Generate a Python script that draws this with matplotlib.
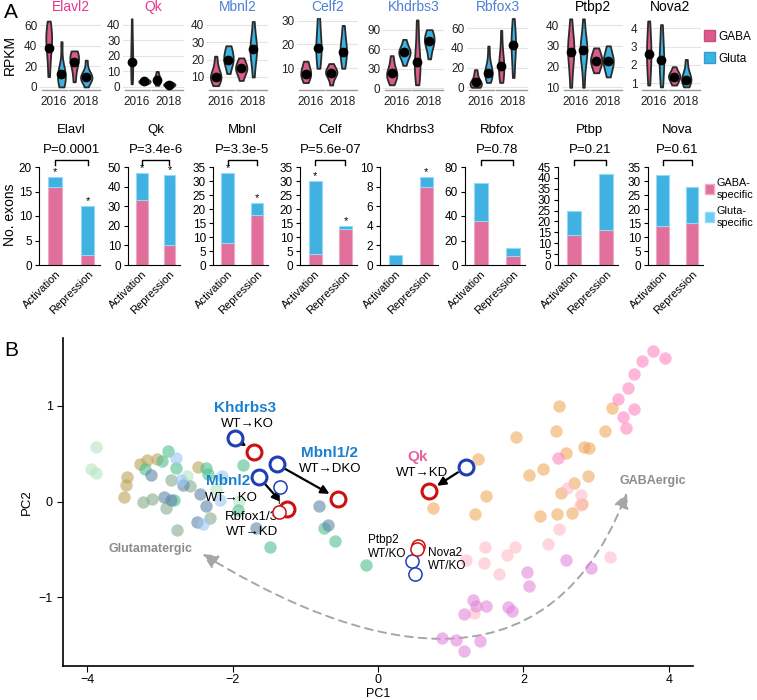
import numpy as np
import matplotlib
matplotlib.use('Agg')
import matplotlib.pyplot as plt
from matplotlib.patches import Patch, FancyArrowPatch
from matplotlib.path import Path
from matplotlib import cbook

plt.rcParams['font.family'] = ['Liberation Sans', 'DejaVu Sans']

# --- panel A top: RPKM violins (GABA16, Gluta16, GABA18, Gluta18) ---
violin_genes = ['Elavl2', 'Qk', 'Mbnl2', 'Celf2', 'Khdrbs3', 'Rbfox3', 'Ptbp2', 'Nova2']
violin_title_colors = ['#e8348c', '#e8348c', '#4c7fd6', '#4c7fd6', '#4c7fd6', '#4c7fd6', 'black', 'black']

elavl2_vals = [[10, 22, 32, 38, 42, 46, 50, 53, 56, 64],
               [0, 4, 7, 9, 11, 13, 16, 22, 44],
               [5, 14, 20, 24, 26, 28, 30, 33, 35],
               [0, 5, 7, 8, 9, 10, 11, 13, 17, 26]]
qk_vals = [[2, 8, 14, 17, 22, 30, 44],
           [2, 3, 3.5, 4, 5],
           [1, 3, 4, 4.5, 5.5, 7, 10],
           [0, 1, 1.5, 2, 3]]
mbnl2_vals = [[5, 7, 8.5, 9.5, 10, 11, 12, 14, 17, 22],
              [12, 16, 18, 19.5, 20.5, 22, 24, 26, 28],
              [8, 11, 13, 14, 15, 16, 17, 19, 21],
              [10, 18, 22, 24, 26, 28, 30, 34, 42]]
celf2_vals = [[4, 5.5, 6.5, 7.5, 8, 9, 10, 11.5, 13],
              [10, 13, 16, 18, 19, 21, 24, 28, 32],
              [3, 6, 7.5, 8, 8.5, 9, 10, 12],
              [10, 13, 15, 16.5, 17.5, 19, 21, 24, 28]]
khdrbs3_vals = [[5, 12, 16, 19, 21, 23, 26, 32, 40, 50],
                [35, 45, 50, 53, 55, 57, 60, 65, 75],
                [5, 15, 25, 32, 38, 42, 50, 65, 85, 105],
                [45, 58, 65, 70, 73, 76, 80, 85, 90]]
rbfox3_vals = [[0, 1, 2, 3, 4, 5, 6, 9, 13, 18],
               [5, 10, 12, 14, 15, 16, 18, 22, 30, 42],
               [5, 10, 15, 20, 22, 25, 30, 40, 58],
               [10, 22, 32, 40, 43, 47, 52, 60, 70]]
ptbp2_vals = [[10, 18, 23, 26, 28, 30, 32, 35, 43],
              [10, 20, 24, 27, 28, 29, 31, 34, 43],
              [17, 19, 21, 22, 23, 24, 25, 27, 29],
              [15, 18, 20, 21.5, 22.5, 23.5, 25, 27, 30]]
nova2_vals = [[0.9, 1.5, 2.0, 2.4, 2.6, 2.9, 3.3, 3.8, 4.4],
              [0.8, 1.3, 1.8, 2.1, 2.3, 2.6, 3.0, 3.6, 4.2],
              [0.9, 1.1, 1.25, 1.35, 1.4, 1.5, 1.6, 1.9],
              [0.8, 1.0, 1.1, 1.2, 1.25, 1.35, 1.5, 1.8, 2.3]]
violin_samples = [elavl2_vals, qk_vals, mbnl2_vals, celf2_vals,
                  khdrbs3_vals, rbfox3_vals, ptbp2_vals, nova2_vals]
violin_dots = [[38, 13, 24, 10], [16, 3.5, 4.5, 1.5], [10, 20, 15, 26], [7.5, 18.5, 8, 17],
               [23, 55, 40, 72], [5, 15, 22, 43], [27, 28, 22.5, 22.5], [2.6, 2.25, 1.35, 1.2]]
violin_ticks = [[0, 20, 40, 60], [0, 10, 20, 30, 40], [10, 20, 30, 40], [10, 20, 30],
                [0, 30, 60, 90], [0, 20, 40, 60], [10, 20, 30, 40], [1, 2, 3, 4]]
violin_ylims = [(-3, 67), (-2, 44.5), (2.5, 44), (0.9, 31.1),
                (-3, 108), (-2.7, 70.5), (8.7, 43.4), (0.63, 4.56)]
years = ['2016', '2018']

# --- panel A bottom: exon counts ---
bar_genes = ['Elavl', 'Qk', 'Mbnl', 'Celf', 'Khdrbs3', 'Rbfox', 'Ptbp', 'Nova']
bar_groups = ['Activation', 'Repression']
gaba_counts = [[16, 2], [33, 10], [8, 18], [4, 13], [0, 8], [36, 7], [14, 16], [14, 15]]
gluta_counts = [[2, 10], [14, 36], [25, 4], [26, 1], [1, 1], [31, 7], [11, 26], [18, 13]]
p_values = ['P=0.0001', 'P=3.4e-6', 'P=3.3e-5', 'P=5.6e-07', None, 'P=0.78', 'P=0.21', 'P=0.61']
stars = [[True, True], [True, True], [True, True], [True, True],
         [False, True], [False, False], [False, False], [False, False]]
bar_ymax = [20, 50, 35, 35, 10, 80, 45, 35]
bar_step = [5, 10, 5, 5, 2, 20, 5, 5]

# --- panel B: PCA ---
pc_groups = {
    'pale_green': ([-3.87, -3.94, -3.87, -2.63, -2.22, -1.91],
                   [0.57, 0.34, 0.30, 0.27, 0.13, 0.01], '#b5e6c0'),
    'olive': ([-3.27, -3.17, -3.04, -3.45, -3.47, -3.49, -2.47],
              [0.39, 0.43, 0.44, 0.26, 0.17, 0.05, 0.36], '#bda35a'),
    'green': ([-2.89, -2.97, -3.20, -2.78, -2.80, -2.37, -2.33, -1.86, -1.92, -1.49, -0.74, -0.59, -0.16],
              [0.53, 0.42, 0.34, 0.35, 0.02, 0.35, 0.29, 0.38, -0.09, -0.48, -0.28, -0.41, -0.66], '#4fbf8e'),
    'grey_green': ([-3.23, -3.10, -2.91, -2.84, -2.58, -2.76, -2.31],
                   [-0.01, 0.03, -0.07, 0.23, 0.16, -0.30, -0.17], '#86ad8e'),
    'blue_grey': ([-3.12, -2.94, -2.85, -2.68, -2.45, -2.37, -2.49, -1.68, -0.81, -0.69],
                  [0.28, 0.05, 0.02, 0.17, 0.08, -0.05, -0.21, -0.28, -0.05, -0.25], '#5f86a8'),
    'light_blue': ([-2.77, -2.71, -2.41, -2.15, -2.17],
                   [0.46, 0.23, -0.23, 0.27, 0.02], '#9cc6f2'),
    'orange': ([2.49, 2.45, 1.90, 1.37, 2.58, 2.83, 2.90, 3.12, 3.22, 2.27, 2.08, 2.88, 2.69,
                2.51, 1.48, 0.75, 1.33, 2.22, 2.46, 2.66, 2.81],
               [1.00, 0.74, 0.67, 0.44, 0.51, 0.57, 0.56, 0.74, 0.98, 0.34, 0.28, 0.27, 0.19,
                0.09, 0.06, -0.07, -0.13, -0.15, -0.13, -0.12, -0.03], '#f0a95e'),
    'hot_pink': ([3.78, 3.95, 3.63, 3.52, 3.43, 3.30, 3.52, 3.37, 3.41, 2.47],
                 [1.57, 1.50, 1.47, 1.33, 1.19, 1.07, 0.97, 0.88, 0.77, 0.45], '#ff86c0'),
    'pale_pink': ([2.60, 2.79, 2.77, 2.49, 2.33, 1.47, 1.88, 1.78, 1.21, 1.46, 1.67, 3.19, 1.32],
                  [0.14, 0.07, -0.04, -0.29, -0.44, -0.48, -0.48, -0.56, -0.61, -0.64, -0.76, -0.58, -1.17],
                  '#ffbcc8'),
    'orchid': ([2.58, 2.93, 2.05, 2.08, 1.30, 1.35, 1.49, 1.18, 1.79, 1.84, 0.88, 1.07, 1.40, 1.18],
               [-0.61, -0.69, -0.74, -0.88, -1.03, -1.09, -1.09, -1.18, -1.10, -1.15, -1.43, -1.45, -1.46, -1.56],
               '#e487dc'),
}

ko_names = ['Khdrbs3', 'Mbnl1/2', 'Mbnl2', 'Qk', 'Rbfox1/3', 'Ptbp2', 'Nova2']
wt_x = [-1.97, -1.39, -1.64, 1.21, -1.35, 0.47, 0.51]
wt_y = [0.66, 0.39, 0.26, 0.36, 0.15, -0.62, -0.76]
ko_x = [-1.70, -0.55, -1.25, 0.70, -1.36, 0.55, 0.53]
ko_y = [0.52, 0.03, -0.08, 0.11, -0.11, -0.46, -0.50]
ko_thick = [True, True, True, True, False, False, False]

GABA_C = '#dc5a8c'
GLUTA_C = '#3bb4e4'
BAR_PINK = '#e0709b'
BAR_BLUE = '#41b1e1'

W, H = 757, 700
fig = plt.figure(figsize=(W / 100, H / 100), dpi=100)


def px_axes(left, top, width, height):
    return fig.add_axes([left / W, 1 - (top + height) / H, width / W, height / H])


def gauss_kde(X, coords):
    X = np.asarray(X, float)
    bw = X.std(ddof=1) * len(X) ** (-1 / 5)
    z = (np.asarray(coords)[:, None] - X[None, :]) / bw
    return np.exp(-0.5 * z ** 2).sum(axis=1) / (len(X) * bw * np.sqrt(2 * np.pi))


# ---------------- violins ----------------
violin_left = [40, 123, 207, 297, 383, 467, 562, 640]
pos = [1, 1.95, 2.9, 3.8]
for i, gene in enumerate(violin_genes):
    ax = px_axes(violin_left[i], 18, 61, 72)
    stats = cbook.violin_stats(violin_samples[i], gauss_kde, points=120)
    dmax = np.array([s['vals'].max() for s in stats])
    widths = 0.85 * (dmax / dmax.max()) ** 0.7
    parts = ax.violin(stats, positions=pos, widths=widths,
                      showmeans=False, showextrema=False, showmedians=False)
    for j, body in enumerate(parts['bodies']):
        body.set_facecolor(GABA_C if j % 2 == 0 else GLUTA_C)
        body.set_edgecolor('#2b2b2b')
        body.set_linewidth(1.3)
        body.set_alpha(1)
        body.set_zorder(3)
    ax.scatter(pos, violin_dots[i], s=36, color='black', zorder=4)
    ax.set_ylim(*violin_ylims[i])
    ax.set_xlim(0.35, 4.9)
    ax.set_yticks(violin_ticks[i])
    ax.yaxis.grid(True, color='#e4e4e4', lw=0.8)
    ax.set_axisbelow(True)
    for sp in ax.spines.values():
        sp.set_visible(False)
    ax.tick_params(length=0, labelsize=8.5, colors='#222222', pad=2)
    ax.set_xticks([1.38, 3.72])
    ax.set_xticklabels(years, fontsize=8.5)
    ax.tick_params(axis='x', pad=4)
    for x0, x1 in [(0.5, 2.4), (2.55, 4.85)]:
        ax.plot([x0, x1], [0, 0], transform=ax.get_xaxis_transform(),
                color='#9a9a9a', lw=1, clip_on=False)
    ax.set_title(gene, color=violin_title_colors[i], fontsize=10, pad=5)

fig.text(10 / W, 1 - 55 / H, 'RPKM', rotation=90, va='center', ha='center', fontsize=10)
fig.text(4 / W, 1 - 12 / H, 'A', fontsize=15, va='center')
fig.legend([Patch(facecolor=GABA_C, edgecolor='#cc4c7e'), Patch(facecolor=GLUTA_C, edgecolor='#2fa0d0')],
           ['GABA', 'Gluta'], loc='upper left', bbox_to_anchor=(704 / W, 1 - 30 / H),
           frameon=False, borderaxespad=0, borderpad=0, handlelength=0.9, handleheight=1.1,
           handletextpad=0.35, labelspacing=0.8, fontsize=8.5)

# ---------------- bars ----------------
bar_left = [39, 128, 213, 300, 380, 465, 558, 648]
bar_right = [100, 180, 268, 357, 438, 525, 618, 703]
xb = np.array([0, 1])
for i, gene in enumerate(bar_genes):
    ax = px_axes(bar_left[i], 167, bar_right[i] - bar_left[i], 98)
    g = np.array(gaba_counts[i])
    u = np.array(gluta_counts[i])
    ax.bar(xb, g, width=0.42, color=BAR_PINK, edgecolor='#f2a8c4', lw=0.8)
    ax.bar(xb, u, bottom=g, width=0.42, color=BAR_BLUE, edgecolor='#94d9f6', lw=0.8)
    ax.set_xlim(-0.5, 1.38)
    ax.set_ylim(0, bar_ymax[i])
    ax.set_yticks(np.arange(0, bar_ymax[i] + 0.1, bar_step[i]))
    ax.spines['top'].set_visible(False)
    ax.spines['right'].set_visible(False)
    ax.tick_params(axis='y', length=3, labelsize=8.5, pad=2)
    ax.set_xticks(xb)
    ax.set_xticklabels(bar_groups, rotation=45, ha='right', rotation_mode='anchor', fontsize=8)
    ax.tick_params(axis='x', length=0, pad=3)
    for j in range(2):
        if stars[i][j]:
            ax.text(xb[j], g[j] + u[j], '*', ha='center', va='bottom', fontsize=8)
    trans = ax.get_xaxis_transform()
    if p_values[i]:
        ax.plot([0, 0, 1, 1], [1.02, 1.07, 1.07, 1.02], transform=trans,
                color='black', lw=1, clip_on=False)
        ax.text(0.5, 1.17, p_values[i], transform=trans, ha='center', va='center', fontsize=9.5)
    ax.text(0.5, 1.38, gene, transform=trans, ha='center', va='center', fontsize=9.5)

fig.text(10 / W, 1 - 215 / H, 'No. exons', rotation=90, va='center', ha='center', fontsize=10)
fig.legend([Patch(facecolor=BAR_PINK, edgecolor='#f2a8c4'), Patch(facecolor='#6ccdf2', edgecolor='#94d9f6')],
           ['GABA-\nspecific', 'Gluta-\nspecific'], loc='upper left', bbox_to_anchor=(705 / W, 1 - 178 / H),
           frameon=False, borderaxespad=0, borderpad=0, handlelength=0.8, handleheight=1.1,
           handletextpad=0.3, labelspacing=0.6, fontsize=7.8)

# ---------------- PCA ----------------
fig.text(4 / W, 1 - 350 / H, 'B', fontsize=15, va='center')
ax = px_axes(63, 338, 630, 328)
for name, (xs, ys, col) in pc_groups.items():
    ax.scatter(xs, ys, s=80, color=col, alpha=0.6, lw=0, zorder=2)

for i, name in enumerate(ko_names):
    lw = 2.2 if ko_thick[i] else 1.1
    s = 115 if ko_thick[i] else 90
    if ko_thick[i]:
        ax.annotate('', xy=(ko_x[i], ko_y[i]), xytext=(wt_x[i], wt_y[i]),
                    arrowprops=dict(arrowstyle='-|>,head_length=0.5,head_width=0.25', color='black',
                                    lw=1.6, shrinkA=7, shrinkB=7), zorder=3)
    elif name == 'Rbfox1/3':
        ax.annotate('', xy=(ko_x[i], ko_y[i]), xytext=(wt_x[i], wt_y[i]),
                    arrowprops=dict(arrowstyle='-', color='#333333', lw=0.8,
                                    shrinkA=6, shrinkB=6), zorder=3)
    else:
        ax.annotate('', xy=(ko_x[i], ko_y[i]), xytext=(wt_x[i], wt_y[i]),
                    arrowprops=dict(arrowstyle='-|>,head_length=0.3,head_width=0.15', color='#333333',
                                    lw=0.8, ls=':', shrinkA=5, shrinkB=5), zorder=3)
    ax.scatter(wt_x[i], wt_y[i], s=s, facecolor='white', edgecolor='#1f3fb5', lw=lw, zorder=4)
    ax.scatter(ko_x[i], ko_y[i], s=s, facecolor='white', edgecolor='#cc1111', lw=lw, zorder=4)

blue_lab = '#1b80cf'
ax.text(-1.83, 0.98, 'Khdrbs3', color=blue_lab, fontweight='bold', fontsize=11, ha='center', va='center')
ax.text(-1.80, 0.81, 'WT→KO', fontsize=9.5, ha='center', va='center')
ax.text(-0.66, 0.51, 'Mbnl1/2', color=blue_lab, fontweight='bold', fontsize=11, ha='center', va='center')
ax.text(-0.66, 0.34, 'WT→DKO', fontsize=9.5, ha='center', va='center')
ax.text(-2.06, 0.21, 'Mbnl2', color=blue_lab, fontweight='bold', fontsize=11, ha='center', va='center')
ax.text(-2.01, 0.04, 'WT→KO', fontsize=9.5, ha='center', va='center')
ax.text(-1.74, -0.16, 'Rbfox1/3', fontsize=9.5, ha='center', va='center')
ax.text(-1.73, -0.32, 'WT→KD', fontsize=9.5, ha='center', va='center')
ax.text(0.55, 0.47, 'Qk', color='#e8649c', fontweight='bold', fontsize=11, ha='center', va='center')
ax.text(0.60, 0.30, 'WT→KD', fontsize=9.5, ha='center', va='center')
ax.text(-0.14, -0.40, 'Ptbp2', fontsize=8.5, ha='left', va='center')
ax.text(-0.14, -0.55, 'WT/KO', fontsize=8.5, ha='left', va='center')
ax.text(0.69, -0.54, 'Nova2', fontsize=8.5, ha='left', va='center')
ax.text(0.69, -0.67, 'WT/KO', fontsize=8.5, ha='left', va='center')
ax.text(-3.13, -0.50, 'Glutamatergic', color='#8c8c8c', fontweight='bold', fontsize=9, ha='center', va='center')
ax.text(3.78, 0.21, 'GABAergic', color='#8c8c8c', fontweight='bold', fontsize=9, ha='center', va='center')

arc = Path([(-2.41, -0.55), (-0.8, -1.3), (2.2, -2.35), (3.42, 0.09)],
           [Path.MOVETO, Path.CURVE4, Path.CURVE4, Path.CURVE4])
ax.add_patch(FancyArrowPatch(path=arc, arrowstyle='<|-|>,head_length=0.9,head_width=0.45',
                             mutation_scale=10, color='#a6a6a6', lw=1.4, linestyle=(0, (4, 3)), zorder=1))

ax.set_xlim(-4.33, 4.33)
ax.set_ylim(-1.72, 1.71)
ax.set_xticks([-4, -2, 0, 2, 4])
ax.set_yticks([-1, 0, 1])
ax.spines['top'].set_visible(False)
ax.spines['right'].set_visible(False)
ax.spines['left'].set_linewidth(1.2)
ax.spines['bottom'].set_linewidth(1.2)
ax.tick_params(labelsize=9, length=4)
ax.tick_params(axis='x', pad=2)
ax.set_ylabel('PC2', fontsize=9.5, labelpad=4)
fig.text(378 / W, 1 - 694 / H, 'PC1', fontsize=9, ha='center', va='center')

fig.savefig('out.png', dpi=100)
